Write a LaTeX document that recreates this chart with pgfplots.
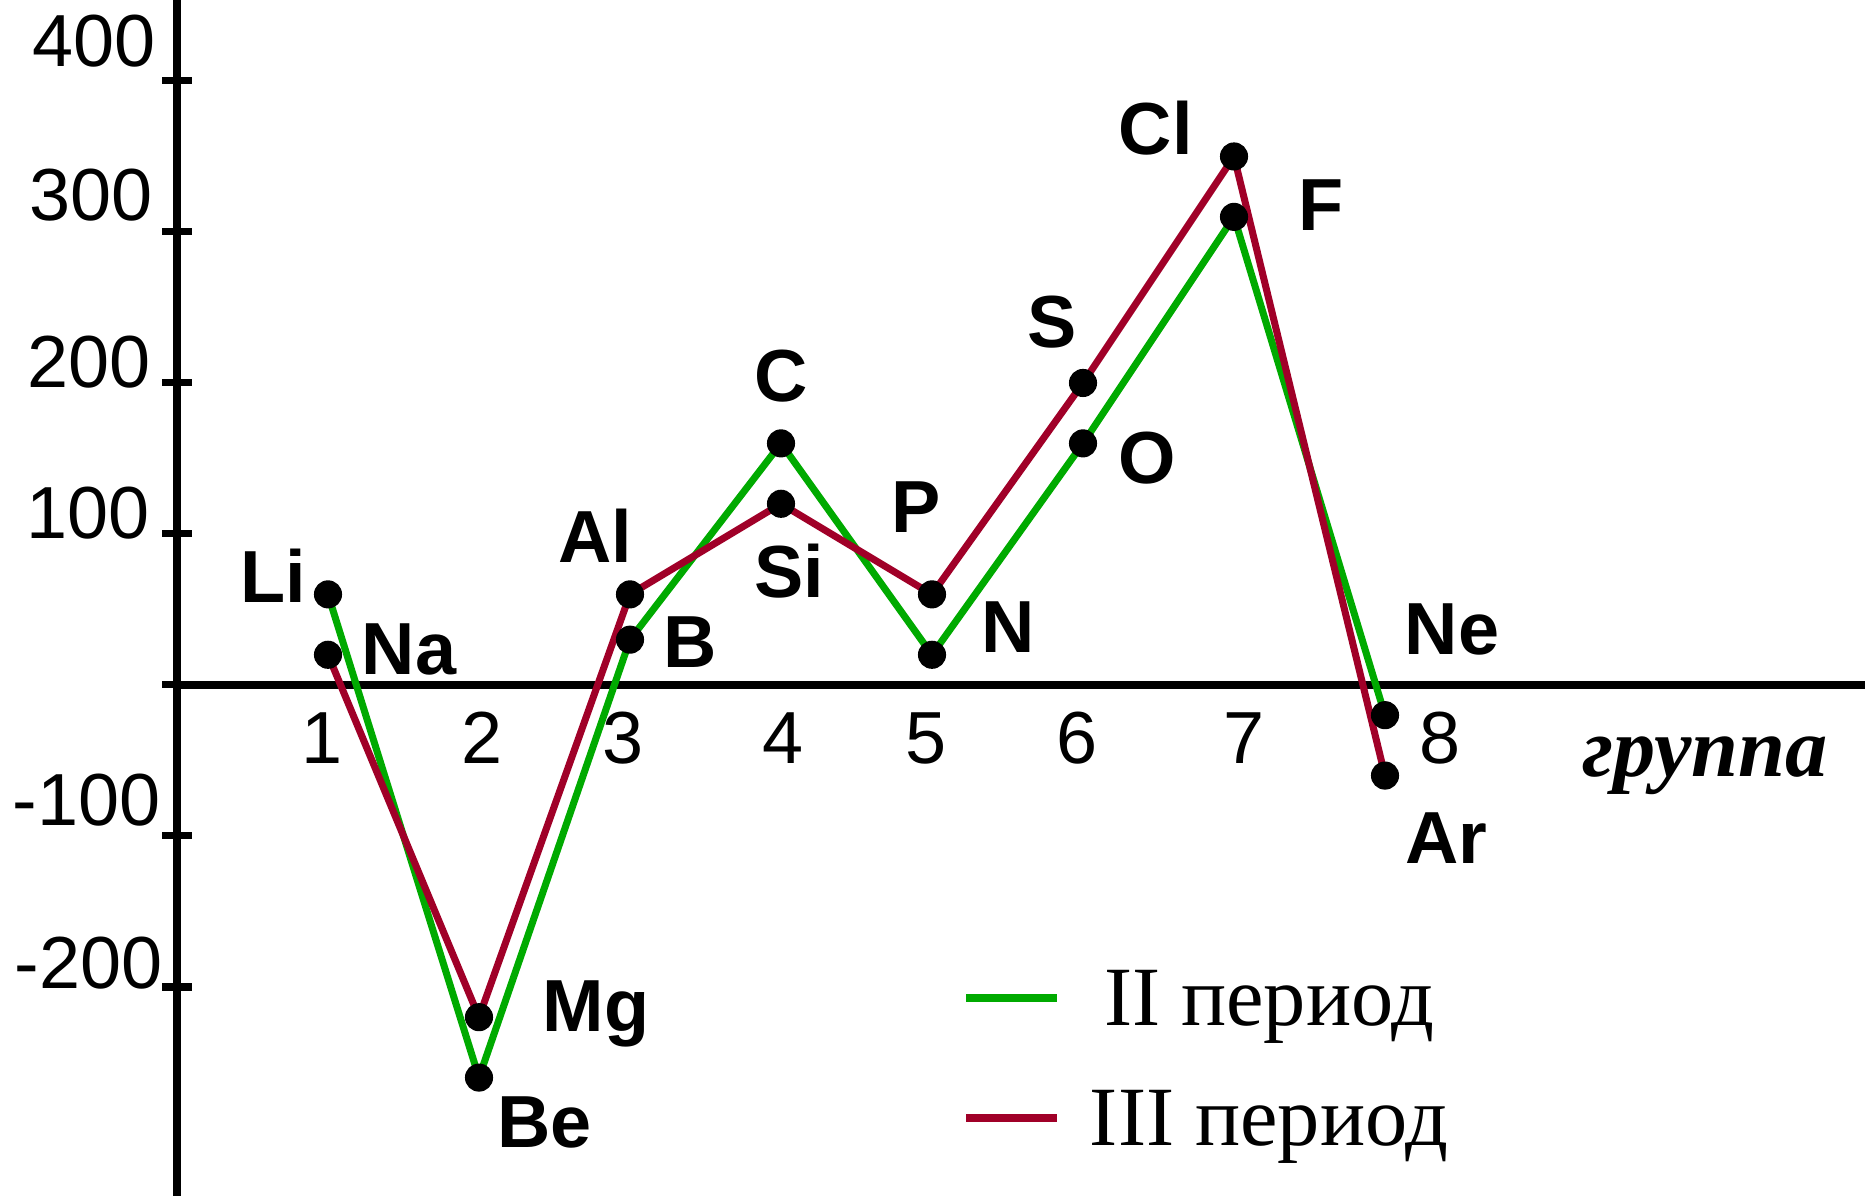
\documentclass[border=0pt]{standalone}
\usepackage{pgfplots}
\pgfplotsset{compat=1.18}
\usepackage{fontspec}
\setmainfont{Liberation Sans}
\newfontfamily\tnr{Liberation Serif}
\definecolor{pgreen}{RGB}{0,170,0}
\definecolor{pred}{RGB}{160,0,40}
\begin{document}
\begin{tikzpicture}
\useasboundingbox (0,0) rectangle (18.65cm,11.96cm);
\begin{axis}[
  at={(1.77cm,0cm)}, anchor=south west,
  scale only axis, width=16.88cm, height=11.96cm,
  xmin=0, xmax=11.1788, ymin=-338.41, ymax=453.64,
  axis lines=middle,
  axis line style={-, line width=2.3pt, black},
  xtick=\empty,
  ytick={-200,-100,0,100,200,300,400},
  yticklabels={,,,,,,},
  tick style={black, line width=2pt},
  major tick length=0.3cm,
  hide obscured y ticks=false,
  clip=false,
  legend image code/.code={\path (0cm,-0.28cm) (0cm,0.28cm); \draw[#1] (0cm,0cm) -- (0.91cm,0cm);},
  legend cell align=center,
  legend style={draw=none, fill=none, inner sep=0pt, outer sep=0pt,
    at={(axis cs:5.205,-175.5)}, anchor=north west,
    font=\tnr\fontsize{24}{28}\selectfont,
    row sep=0.24cm, column sep=0.29cm,
    nodes={inner sep=0pt, text height=0.76cm, text depth=0.2cm}},
]
% markers
\addplot[only marks, mark=*, mark size=3.8pt, black, forget plot] coordinates {
 (1,60) (2,-260) (3,30) (4,160) (5,20) (6,160) (7,310) (8,-20)
 (1,20) (2,-220) (3,60) (4,120) (5,60) (6,200) (7,350) (8,-60)};
% II period
\addplot[pgreen, line width=2pt, mark=none, forget plot] coordinates {
 (1,60) (2,-260) (3,30) (4,160) (5,20) (6,160) (7,310) (8,-20)};
% III period
\addplot[pred, line width=2pt, mark=none, forget plot] coordinates {
 (1,20) (2,-220) (3,60) (4,120) (5,60) (6,200) (7,350) (8,-60)};
\addlegendimage{pgreen, line width=2pt}
\addlegendentry{II период}
\addlegendimage{pred, line width=2pt}
\addlegendentry{III период}
% y tick labels
\begin{scope}[every node/.style={inner sep=0pt, anchor=base east, font=\fontsize{21}{25}\selectfont}]
\node at (axis cs:-0.139,409.9) {400};
\node at (axis cs:-0.159,307.9) {300};
\node at (axis cs:-0.172,196.7) {200};
\node at (axis cs:-0.179,96.9) {100};
\node at (axis cs:-0.106,-93.2) {-100};
\node at (axis cs:-0.093,-201.3) {-200};
\end{scope}
% x tick labels
\begin{scope}[every node/.style={inner sep=0pt, anchor=base, font=\fontsize{21}{25}\selectfont}]
\node at (axis cs:0.958,-51.7) {1};
\node at (axis cs:2.020,-51.7) {2};
\node at (axis cs:2.954,-51.7) {3};
\node at (axis cs:4.013,-51.7) {4};
\node at (axis cs:4.960,-51.7) {5};
\node at (axis cs:5.960,-51.7) {6};
\node at (axis cs:7.063,-51.7) {7};
\node at (axis cs:8.364,-51.7) {8};
\end{scope}
% element labels
\begin{scope}[every node/.style={inner sep=0pt, anchor=base west, font=\bfseries\fontsize{21}{25}\selectfont}]
\node at (axis cs:0.417,54.3) {Li};
\node at (axis cs:1.219,7.0) {Na};
\node at (axis cs:2.523,80.8) {Al};
\node at (axis cs:3.219,11.9) {B};
\node at (axis cs:3.821,187.4) {C};
\node at (axis cs:3.821,57.6) {Si};
\node at (axis cs:4.728,101.3) {P};
\node at (axis cs:5.325,21.2) {N};
\node at (axis cs:6.232,133.1) {O};
\node at (axis cs:5.629,223.2) {S};
\node at (axis cs:6.232,351.0) {Cl};
\node at (axis cs:7.424,301.3) {F};
\node at (axis cs:8.126,20.5) {Ne};
\node at (axis cs:8.132,-117.9) {Ar};
\node at (axis cs:2.417,-229.8) {Mg};
\node at (axis cs:2.119,-306.0) {Be};
\end{scope}
\node[inner sep=0pt, anchor=base west, font=\tnr\bfseries\itshape\fontsize{24}{28}\selectfont] at (axis cs:9.30,-60.9) {группа};
\end{axis}
\end{tikzpicture}
\end{document}
